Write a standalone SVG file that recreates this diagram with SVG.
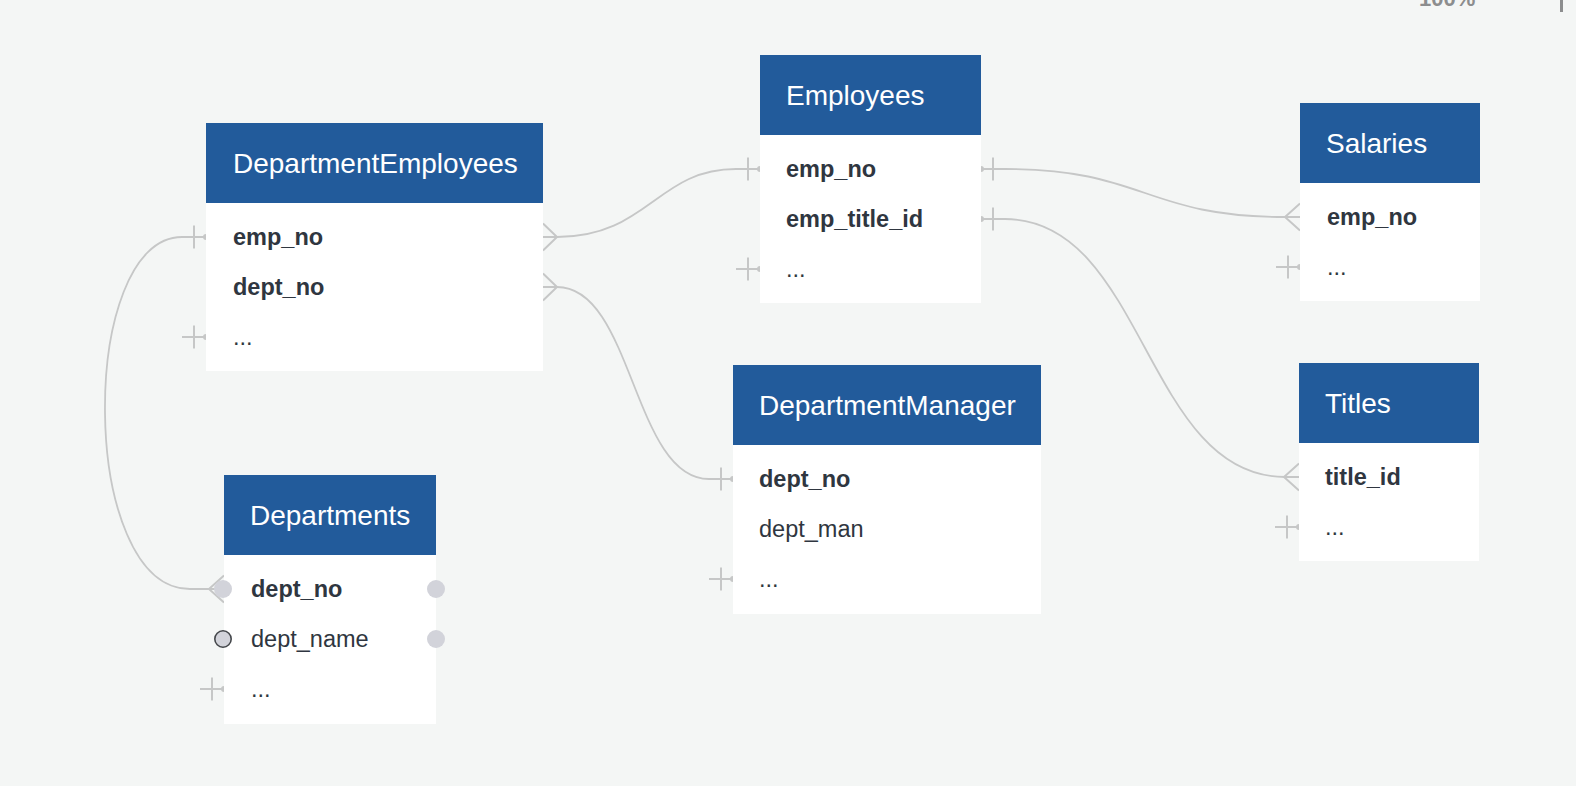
<svg xmlns="http://www.w3.org/2000/svg" xmlns:xlink="http://www.w3.org/1999/xlink" width="1576" height="786" viewBox="0 0 1576 786">
<style>
.bg{fill:#f4f6f5}
.hdr{fill:#225b9b}
.body{fill:#ffffff}
.title{font-family:"Liberation Sans",Arial,Helvetica,sans-serif;font-size:28px;fill:#ffffff}
.row{font-family:"Liberation Sans",Arial,Helvetica,sans-serif;font-size:23.5px;fill:#2f3640}
.key{font-weight:bold}
.conn{fill:none;stroke:#c6c7c7;stroke-width:1.8}
.mk line,.mk polyline{fill:none;stroke:#c6c7c7;stroke-width:2}
.mk circle{fill:#c6c7c7}
.handle{fill:#d2d3da}
.handle-sel{fill:#d2d3da;stroke:#45484c;stroke-width:1.6}
.ui{font-family:"Liberation Sans",Arial,Helvetica,sans-serif;font-size:22px;font-weight:bold;fill:#8c8d8e}
</style>
<defs>
<g id="barL" class="mk"><line x1="-24" y1="0" x2="0" y2="0"/><line x1="-12" y1="-11.5" x2="-12" y2="11.5"/><circle cx="0" cy="0" r="3"/></g>
<g id="barR" class="mk"><line x1="0" y1="0" x2="24" y2="0"/><line x1="12" y1="-11.5" x2="12" y2="11.5"/><circle cx="0" cy="0" r="3"/></g>
<g id="crowR" class="mk"><polyline points="0,-13.5 14,0 0,13.5"/><line x1="0" y1="0" x2="14" y2="0"/></g>
<g id="crowL" class="mk"><polyline points="0,-13.5 -15,0 0,13.5"/><line x1="0" y1="0" x2="-15" y2="0"/></g>
</defs>
<rect class="bg" x="0" y="0" width="1576" height="786"/>
<text class="ui" x="1419" y="6">100%</text>
<rect x="1560" y="0" width="3" height="12" fill="#8c8d8e"/>

<g id="connectors">
<path class="conn" d="M557,237 C648,237 657,169 736,169"/>
<path class="conn" d="M557,287 C633,287 633,479 709,479"/>
<path class="conn" d="M1005,169 C1145,169 1145,217 1285,217"/>
<path class="conn" d="M1005,219 C1145,219 1145,477 1285,477"/>
<path class="conn" d="M182,237 C78,237 78,589 190,589 L209,589"/>
<use xlink:href="#crowR" x="543" y="237"/>
<use xlink:href="#crowR" x="543" y="287"/>
<use xlink:href="#barL" x="760" y="169"/>
<use xlink:href="#barL" x="733" y="479"/>
<use xlink:href="#barR" x="981" y="169"/>
<use xlink:href="#barR" x="981" y="219"/>
<use xlink:href="#crowL" x="1300" y="217"/>
<use xlink:href="#crowL" x="1299" y="477"/>
<use xlink:href="#barL" x="206" y="237"/>
<use xlink:href="#crowL" x="224" y="589"/>
<use xlink:href="#barL" x="206" y="337"/>
<use xlink:href="#barL" x="760" y="269"/>
<use xlink:href="#barL" x="1300" y="267"/>
<use xlink:href="#barL" x="1299" y="527"/>
<use xlink:href="#barL" x="733" y="579"/>
<use xlink:href="#barL" x="224" y="689"/>
</g>

<g id="DepartmentEmployees">
<rect class="body" x="206" y="123" width="337" height="248"/>
<rect class="hdr" x="206" y="123" width="337" height="80"/>
<text class="title" x="233" y="173">DepartmentEmployees</text>
<text class="row key" x="233" y="245">emp_no</text>
<text class="row key" x="233" y="295">dept_no</text>
<text class="row" x="233" y="345">...</text>
</g>

<g id="Employees">
<rect class="body" x="760" y="55" width="221" height="248"/>
<rect class="hdr" x="760" y="55" width="221" height="80"/>
<text class="title" x="786" y="105">Employees</text>
<text class="row key" x="786" y="177">emp_no</text>
<text class="row key" x="786" y="227">emp_title_id</text>
<text class="row" x="786" y="277">...</text>
</g>

<g id="Salaries">
<rect class="body" x="1300" y="103" width="180" height="198"/>
<rect class="hdr" x="1300" y="103" width="180" height="80"/>
<text class="title" x="1326" y="153">Salaries</text>
<text class="row key" x="1327" y="225">emp_no</text>
<text class="row" x="1327" y="275">...</text>
</g>

<g id="DepartmentManager">
<rect class="body" x="733" y="365" width="308" height="249"/>
<rect class="hdr" x="733" y="365" width="308" height="80"/>
<text class="title" x="759" y="415">DepartmentManager</text>
<text class="row key" x="759" y="487">dept_no</text>
<text class="row" x="759" y="537">dept_man</text>
<text class="row" x="759" y="587">...</text>
</g>

<g id="Titles">
<rect class="body" x="1299" y="363" width="180" height="198"/>
<rect class="hdr" x="1299" y="363" width="180" height="80"/>
<text class="title" x="1325" y="413">Titles</text>
<text class="row key" x="1325" y="485">title_id</text>
<text class="row" x="1325" y="535">...</text>
</g>

<g id="Departments">
<rect class="body" x="224" y="475" width="212" height="249"/>
<rect class="hdr" x="224" y="475" width="212" height="80"/>
<text class="title" x="250" y="525">Departments</text>
<text class="row key" x="251" y="597">dept_no</text>
<text class="row" x="251" y="647">dept_name</text>
<text class="row" x="251" y="697">...</text>
<circle class="handle" cx="223" cy="589" r="9"/>
<circle class="handle" cx="436" cy="589" r="9"/>
<circle class="handle-sel" cx="223" cy="639" r="8.2"/>
<circle class="handle" cx="436" cy="639" r="9"/>
</g>
</svg>
